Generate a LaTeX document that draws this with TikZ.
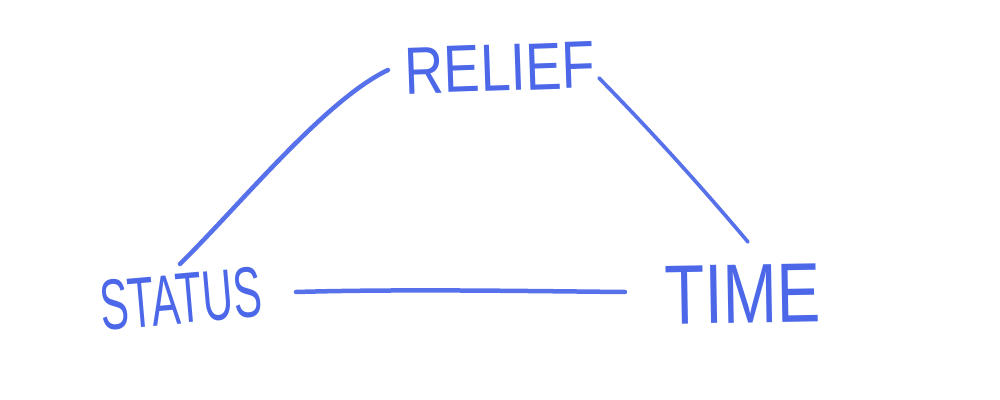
\documentclass[tikz,border=0pt]{standalone}
\usepackage{fontspec}
\setmainfont{Liberation Sans}
\definecolor{crayon}{HTML}{3858E6}
\newcommand{\hand}[3]{\resizebox{#1}{#2}{\textcolor{crayon}{#3}}}
\begin{document}
\begin{tikzpicture}[x=0.025cm,y=-0.025cm,
  lbl/.style={inner sep=0pt, opacity=0.9},
  stroke/.style={draw=crayon, line width=3.2pt, line cap=round, opacity=0.85}]
\useasboundingbox (0,0) rectangle (1000,400);
\node[lbl, rotate=2] (relief) at (500,68) {\hand{4.75cm}{1.15cm}{RELIEF}};
\node[lbl, rotate=5] (status) at (181,299) {\hand{4.05cm}{1.25cm}{STATUS}};
\node[lbl, rotate=1] (time) at (743,294) {\hand{3.9cm}{1.45cm}{TIME}};
\coordinate (sr) at (180,264);
\coordinate (rl) at (388,70);
\coordinate (rr) at (599,78);
\coordinate (tr) at (748,242);
\coordinate (sb) at (296,292);
\coordinate (tb) at (625,292);
\draw[stroke] (sr) .. controls (240,205) and (325,100) .. (rl);
\draw[stroke, line width=2.6pt] (rr) .. controls (650,130) and (700,185) .. (tr);
\draw[stroke] (sb) .. controls (400,289) and (520,291) .. (tb);
\end{tikzpicture}
\end{document}
